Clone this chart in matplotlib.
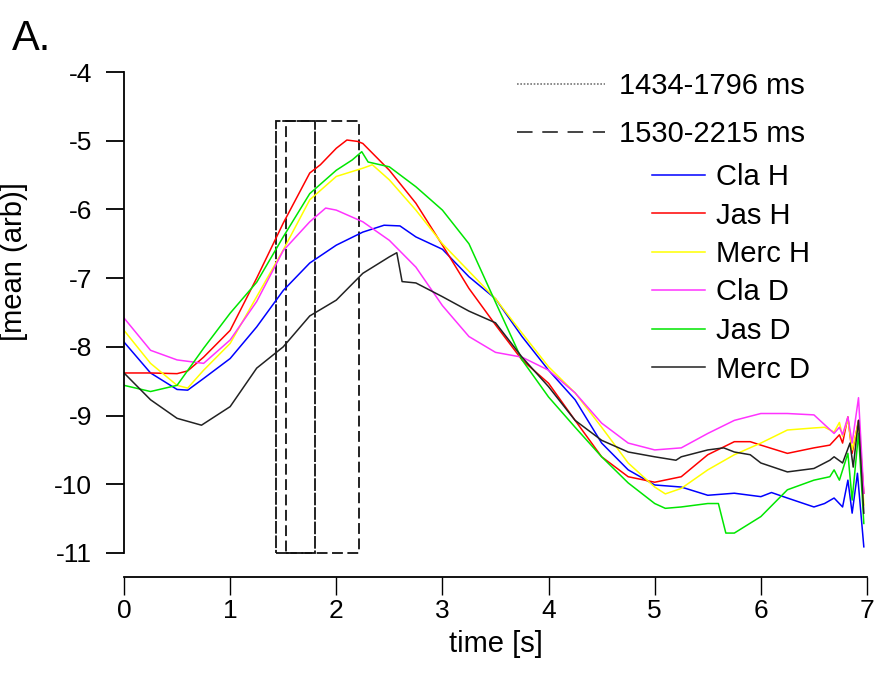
import numpy as np
import matplotlib
matplotlib.use('Agg')
import matplotlib.pyplot as plt
from matplotlib.patches import Rectangle
from matplotlib.lines import Line2D

plt.rcParams['font.family'] = ['Liberation Sans', 'DejaVu Sans']
plt.rcParams['axes.unicode_minus'] = False

# series: time [s] and mean (arb)
t_cla_h = [0, 0.25, 0.5, 0.6, 0.75, 1.0, 1.25, 1.5, 1.75, 2.0, 2.25, 2.45, 2.6, 2.75, 3.0,
           3.25, 3.5, 3.75, 4.0, 4.25, 4.5, 4.75, 5.0, 5.25, 5.5, 5.75, 6.0, 6.1, 6.25,
           6.5, 6.6, 6.69, 6.77, 6.82, 6.86, 6.91, 6.97]
v_cla_h = [-7.93, -8.38, -8.62, -8.63, -8.46, -8.17, -7.71, -7.18, -6.78, -6.52, -6.33,
           -6.23, -6.24, -6.40, -6.58, -6.98, -7.30, -7.85, -8.34, -8.77, -9.40, -9.79,
           -10.01, -10.04, -10.16, -10.13, -10.18, -10.12, -10.20, -10.33, -10.28, -10.20,
           -10.33, -9.94, -10.42, -9.84, -10.91]

t_jas_h = [0, 0.25, 0.5, 0.6, 0.75, 1.0, 1.25, 1.5, 1.75, 1.85, 2.0, 2.1, 2.2, 2.25, 2.5,
           2.75, 3.0, 3.25, 3.5, 3.75, 4.0, 4.25, 4.5, 4.75, 5.0, 5.25, 5.5, 5.75, 5.9,
           6.0, 6.25, 6.5, 6.65, 6.74, 6.77, 6.82, 6.86, 6.92, 6.97]
v_jas_h = [-8.38, -8.38, -8.39, -8.35, -8.15, -7.76, -7.00, -6.20, -5.47, -5.35, -5.11,
           -4.99, -5.01, -5.04, -5.43, -5.91, -6.52, -7.15, -7.68, -8.19, -8.53, -9.07,
           -9.60, -9.89, -9.97, -9.89, -9.57, -9.38, -9.38, -9.43, -9.55, -9.47, -9.43,
           -9.28, -9.40, -9.02, -9.55, -9.07, -10.13]

t_merc_h = [0, 0.25, 0.5, 0.6, 0.75, 1.0, 1.25, 1.5, 1.75, 2.0, 2.25, 2.34, 2.5, 2.75, 3.0,
            3.25, 3.5, 3.75, 4.0, 4.25, 4.5, 4.75, 5.0, 5.1, 5.25, 5.5, 5.75, 6.0, 6.25,
            6.5, 6.6, 6.69, 6.74, 6.77, 6.82, 6.86, 6.92, 6.97]
v_merc_h = [-7.76, -8.24, -8.56, -8.60, -8.34, -7.95, -7.27, -6.59, -5.86, -5.52, -5.40,
            -5.35, -5.57, -6.01, -6.50, -6.90, -7.30, -7.80, -8.29, -8.67, -9.17, -9.69,
            -10.04, -10.14, -10.06, -9.79, -9.57, -9.40, -9.21, -9.18, -9.17, -9.24, -9.10,
            -9.30, -9.05, -9.50, -9.10, -10.30]

t_cla_d = [0, 0.25, 0.5, 0.75, 1.0, 1.25, 1.5, 1.75, 1.9, 2.0, 2.25, 2.5, 2.75, 3.0, 3.25,
           3.5, 3.75, 4.0, 4.25, 4.5, 4.75, 5.0, 5.25, 5.5, 5.75, 6.0, 6.25, 6.5, 6.69,
           6.74, 6.77, 6.82, 6.86, 6.92, 6.97]
v_cla_d = [-7.58, -8.05, -8.19, -8.24, -7.90, -7.34, -6.60, -6.18, -5.98, -6.01, -6.18,
           -6.45, -6.84, -7.40, -7.85, -8.08, -8.15, -8.34, -8.67, -9.11, -9.40, -9.50,
           -9.47, -9.26, -9.07, -8.97, -8.97, -8.99, -9.26, -9.17, -9.28, -9.02, -9.40,
           -8.74, -10.13]

t_jas_d = [0, 0.25, 0.5, 0.75, 1.0, 1.25, 1.5, 1.75, 2.0, 2.15, 2.24, 2.3, 2.5, 2.75, 3.0,
           3.25, 3.5, 3.75, 4.0, 4.25, 4.5, 4.75, 5.0, 5.1, 5.25, 5.5, 5.6, 5.67, 5.75,
           6.0, 6.25, 6.5, 6.65, 6.69, 6.74, 6.82, 6.86, 6.92, 6.97]
v_jas_d = [-8.56, -8.65, -8.56, -8.02, -7.51, -7.06, -6.40, -5.77, -5.43, -5.28, -5.16,
           -5.31, -5.38, -5.67, -6.01, -6.50, -7.35, -8.19, -8.73, -9.17, -9.60, -9.98,
           -10.28, -10.35, -10.33, -10.28, -10.28, -10.71, -10.71, -10.47, -10.08, -9.94,
           -9.89, -9.79, -9.94, -9.55, -10.23, -9.26, -10.57]

t_merc_d = [0, 0.25, 0.5, 0.73, 1.0, 1.25, 1.5, 1.75, 2.0, 2.25, 2.5, 2.57, 2.62, 2.75, 3.0,
            3.25, 3.5, 3.75, 4.0, 4.25, 4.5, 4.75, 5.0, 5.2, 5.25, 5.5, 5.65, 5.75, 5.9,
            6.0, 6.25, 6.5, 6.65, 6.69, 6.77, 6.84, 6.87, 6.92, 6.97]
v_merc_d = [-8.38, -8.77, -9.04, -9.14, -8.87, -8.31, -8.00, -7.55, -7.32, -6.93, -6.69,
            -6.63, -7.05, -7.07, -7.27, -7.48, -7.65, -8.15, -8.58, -9.07, -9.36, -9.53,
            -9.60, -9.65, -9.60, -9.50, -9.47, -9.53, -9.57, -9.69, -9.82, -9.77, -9.65,
            -9.60, -9.69, -9.40, -9.75, -9.07, -10.42]

series = [('Cla H', t_cla_h, v_cla_h, '#0000ff'),
          ('Jas H', t_jas_h, v_jas_h, '#ff0000'),
          ('Merc H', t_merc_h, v_merc_h, '#ffff00'),
          ('Cla D', t_cla_d, v_cla_d, '#ff33ff'),
          ('Jas D', t_jas_d, v_jas_d, '#00e600'),
          ('Merc D', t_merc_d, v_merc_d, '#222222')]

# time windows [s]
win_a = (1.434, 1.796)
win_b = (1.530, 2.215)
win_lo, win_hi = -11.0, -4.71

fig = plt.figure(figsize=(8.82, 6.75), dpi=100)
ax = fig.add_axes([124/882, 1-553/675, 743/882, 481/675])

for name, tt, vv, col in series:
    ax.plot(tt, vv, color=col, lw=1.1, label=name)

rect_a = Rectangle((win_a[0], win_lo), win_a[1]-win_a[0], win_hi-win_lo, fill=False,
                   ec='#111111', lw=1.3, ls=(0, (7, 1)), clip_on=False)
rect_b = Rectangle((win_b[0], win_lo), win_b[1]-win_b[0], win_hi-win_lo, fill=False,
                   ec='#111111', lw=1.3, ls=(0, (6, 2.5)), clip_on=False)
ax.add_patch(rect_a)
ax.add_patch(rect_b)

ax.set_xlim(0, 7)
ax.set_ylim(-11, -4)
ax.set_xticks(range(0, 8))
ax.set_yticks(range(-11, -3))
ax.spines['top'].set_visible(False)
ax.spines['right'].set_visible(False)
ax.spines['bottom'].set_position(('outward', 17))
ax.spines['bottom'].set_bounds(0, 7)
ax.spines['left'].set_bounds(-11, -4)
ax.spines['left'].set_linewidth(1.3)
ax.spines['bottom'].set_linewidth(1.3)
ax.tick_params(axis='x', direction='out', length=13, width=1.0, pad=3, labelsize=19)
ax.tick_params(axis='y', direction='out', length=13, width=1.3, pad=10, labelsize=19)
for tk in ax.yaxis.get_major_ticks():
    if tk.get_loc() > -7.5:
        tk.tick1line.set_color('#999999')

ax.set_xlabel('time [s]', fontsize=21, labelpad=5)
ax.set_ylabel('[mean (arb)]', fontsize=21)
ax.yaxis.set_label_coords(-0.129, 0.605)

# legends
h_win = [Line2D([], [], color='#777777', lw=1.2, ls=(0, (1, 1))),
         Line2D([], [], color='#444444', lw=1.4, ls=(0, (8, 5)))]
leg1 = ax.legend(h_win, ['1434-1796 ms', '1530-2215 ms'], loc='upper left',
                 bbox_to_anchor=(517/882, 1-72/675), bbox_transform=fig.transFigure,
                 frameon=False, fontsize=21, handlelength=3.0, handletextpad=0.5,
                 labelspacing=0.7, borderpad=0, borderaxespad=0)
ax.add_artist(leg1)
ax.legend(loc='upper left', bbox_to_anchor=(652/882, 1-163/675),
          bbox_transform=fig.transFigure, frameon=False, fontsize=21,
          handlelength=1.8, handletextpad=0.4, labelspacing=0.36, borderpad=0,
          borderaxespad=0)

fig.text(12/882, 1-50/675, 'A.', fontsize=30, va='baseline')

fig.savefig('out.png', dpi=100)
